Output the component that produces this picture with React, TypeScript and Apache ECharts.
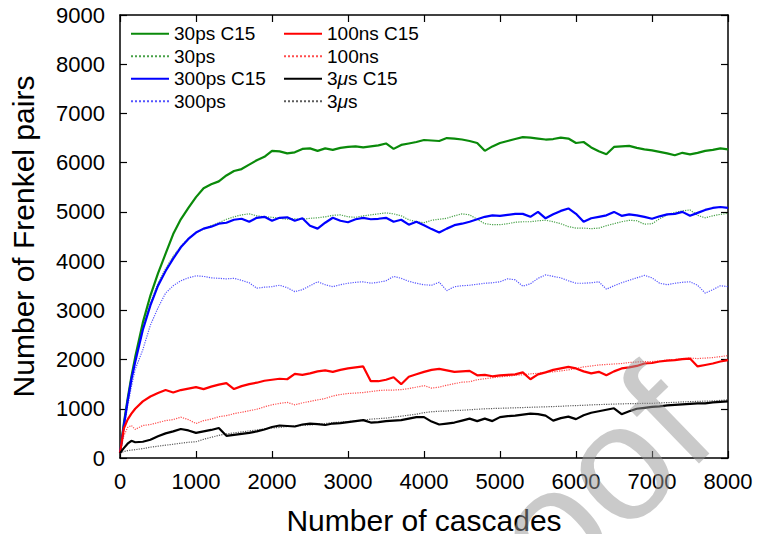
import React, { useEffect, useRef } from "react";
import * as echarts from "echarts";

// Number of cascades (shared x positions)
const CASCADES: number[] = [0, 50, 100, 150, 200, ...Array.from({ length: 78 }, (_, i) => 300 + i * 100)];

const ps30C15 = [100, 700, 1200, 1650, 2050,
  2750, 3300, 3750, 4150, 4550, 4850, 5080, 5300,
  5480, 5560, 5620, 5740, 5830, 5870, 5960, 6050, 6120, 6240,
  6230, 6190, 6210, 6280, 6290, 6240, 6290, 6260, 6300, 6320,
  6330, 6310, 6330, 6350, 6390, 6280, 6360, 6390, 6420, 6460,
  6450, 6440, 6500, 6490, 6470, 6440, 6400, 6240, 6330, 6400,
  6440, 6480, 6520, 6510, 6490, 6470, 6480, 6510, 6490, 6400,
  6420, 6310, 6230, 6170, 6320, 6330, 6340, 6300, 6270, 6250,
  6220, 6190, 6150, 6200, 6170, 6200, 6240, 6260, 6290, 6270];

const ps30 = [100, 680, 1180, 1620, 2000,
  2650, 3150, 3550, 3850, 4100, 4300, 4460, 4580,
  4650, 4720, 4780, 4850, 4900, 4940, 4960, 4920, 4900, 4890,
  4870, 4850, 4860, 4850, 4870, 4880, 4900, 4930, 4940, 4900,
  4890, 4920, 4940, 4960, 4980, 4960, 4920, 4840, 4800, 4780,
  4830, 4850, 4870, 4920, 4960, 4940, 4850, 4760, 4740, 4740,
  4760, 4790, 4800, 4800, 4820, 4830, 4800, 4760, 4700, 4670,
  4670, 4660, 4670, 4720, 4760, 4800, 4830, 4820, 4750, 4760,
  4860, 4940, 4990, 5020, 5040, 4930, 4880, 4920, 4950, 4970];

const ps300C15 = [100, 650, 1150, 1600, 1950,
  2600, 3100, 3500, 3800, 4050, 4280, 4450, 4580,
  4660, 4700, 4760, 4780, 4840, 4860, 4800, 4880, 4900, 4820,
  4880, 4890, 4820, 4870, 4720, 4660, 4780, 4880, 4820, 4790,
  4850, 4880, 4850, 4860, 4880, 4800, 4840, 4740, 4800, 4730,
  4650, 4580, 4660, 4730, 4760, 4800, 4850, 4900, 4930, 4920,
  4940, 4960, 4960, 4900, 5000, 4870, 4950, 5020, 5070, 4960,
  4800, 4870, 4900, 4930, 5000, 4920, 4950, 4930, 4900, 4860,
  4910, 4950, 4960, 5000, 4920, 4980, 5040, 5080, 5100, 5080];

const ps300 = [100, 600, 1050, 1450, 1800,
  2200, 2700, 3050, 3350, 3500, 3600, 3660, 3700,
  3690, 3660, 3650, 3640, 3650, 3610, 3560, 3450, 3470, 3480,
  3510, 3460, 3380, 3420, 3500, 3580, 3520, 3480, 3520, 3550,
  3570, 3580, 3550, 3570, 3600, 3690, 3650, 3590, 3550, 3520,
  3510, 3570, 3400, 3480, 3500, 3510, 3530, 3550, 3560, 3580,
  3640, 3620, 3490, 3540, 3650, 3720, 3690, 3660, 3600, 3550,
  3550, 3560, 3580, 3430, 3500, 3560, 3610, 3660, 3710, 3660,
  3550, 3520, 3550, 3570, 3580, 3510, 3350, 3420, 3500, 3480];

const ns100C15 = [100, 600, 780, 900, 1000,
  1150, 1250, 1320, 1380, 1330, 1380, 1410, 1440,
  1400, 1450, 1490, 1520, 1400, 1460, 1500, 1530, 1570, 1590,
  1610, 1600, 1710, 1690, 1720, 1760, 1780, 1750, 1790, 1820,
  1840, 1860, 1560, 1560, 1590, 1640, 1500, 1650, 1700, 1750,
  1790, 1810, 1780, 1750, 1760, 1770, 1680, 1690, 1660, 1680,
  1690, 1700, 1740, 1600, 1700, 1740, 1790, 1820, 1850, 1820,
  1760, 1720, 1750, 1680, 1760, 1820, 1840, 1870, 1920, 1930,
  1960, 1980, 1990, 2010, 2020, 1860, 1890, 1920, 1960, 1990];

const ns100 = [100, 450, 620, 660, 580,
  660, 680, 720, 760, 780, 830, 780, 700,
  760, 790, 840, 860, 900, 930, 960, 990, 1040, 1080,
  1110, 1130, 1080, 1120, 1150, 1180, 1210, 1260, 1290, 1310,
  1320, 1330, 1350, 1370, 1380, 1380, 1390, 1410, 1440, 1470,
  1420, 1440, 1480, 1510, 1540, 1550, 1590, 1610, 1630, 1650,
  1660, 1680, 1690, 1710, 1720, 1740, 1750, 1770, 1790, 1820,
  1850, 1870, 1890, 1900, 1910, 1920, 1940, 1950, 1960, 1960,
  1970, 1990, 2000, 2020, 2030, 2020, 2030, 2040, 2060, 2080];

const us3C15 = [100, 200, 290, 350, 320,
  330, 370, 440, 500, 540, 590, 560, 510,
  540, 570, 610, 450, 470, 490, 510, 540, 580, 630,
  660, 650, 640, 680, 700, 690, 670, 700, 710, 730,
  750, 770, 720, 730, 750, 760, 770, 800, 830, 830,
  740, 680, 700, 720, 760, 800, 750, 800, 750, 830,
  850, 860, 880, 900, 890, 860, 760, 810, 840, 790,
  870, 920, 950, 980, 1010, 890, 950, 1000, 1020, 1040,
  1050, 1070, 1080, 1090, 1100, 1110, 1110, 1130, 1140, 1150];

const us3 = [100, 130, 150, 160, 170,
  190, 220, 240, 260, 280, 300, 320, 330,
  380, 420, 460, 490, 510, 530, 550, 570, 590, 610,
  620, 640, 650, 660, 670, 690, 700, 720, 730, 740,
  750, 770, 790, 800, 810, 830, 850, 870, 890, 920,
  940, 950, 955, 965, 970, 980, 990, 1000, 1005, 1010,
  1015, 1020, 1025, 1030, 1035, 1040, 1045, 1050, 1060, 1065,
  1070, 1080, 1085, 1090, 1095, 1100, 1105, 1105, 1110, 1110,
  1120, 1125, 1130, 1140, 1145, 1150, 1155, 1160, 1170, 1180];

const X_TICKS = { min: 0, max: 8000, interval: 1000 };
const Y_TICKS = { min: 0, max: 9000, interval: 1000 };

const FONT = "'Liberation Sans', Arial, Helvetica, sans-serif";

const SERIES_DEFS = [
  { name: "30ps C15", values: ps30C15, color: "#0a8a0a", dotted: false },
  { name: "30ps", values: ps30, color: "#1a8a1a", dotted: true },
  { name: "300ps C15", values: ps300C15, color: "#0000ff", dotted: false },
  { name: "300ps", values: ps300, color: "#2a2aff", dotted: true },
  { name: "100ns C15", values: ns100C15, color: "#ff0000", dotted: false },
  { name: "100ns", values: ns100, color: "#ff2020", dotted: true },
  { name: "3μs C15", values: us3C15, color: "#000000", dotted: false },
  { name: "3μs", values: us3, color: "#333333", dotted: true },
];

const legendFormatter = (name: string) => name.replace("μ", "{i|μ}");

export default function App() {
  const ref = useRef<HTMLDivElement>(null);
  useEffect(() => {
    if (!ref.current) return;
    const chart = echarts.init(ref.current, undefined, { renderer: "svg" });
    const axisCommon = {
      type: "value" as const,
      splitLine: { show: false },
      axisLine: { show: true, onZero: false, lineStyle: { color: "#000", width: 1.5 } },
      axisTick: { show: true, inside: true, length: 7, lineStyle: { color: "#000", width: 1.2 } },
    };
    const legendCommon = {
      orient: "vertical" as const,
      top: 19,
      itemWidth: 38,
      itemHeight: 14,
      itemGap: 3,
      formatter: legendFormatter,
      itemStyle: { opacity: 0 },
      textStyle: {
        fontFamily: FONT,
        fontSize: 19,
        lineHeight: 19.5,
        color: "#000",
        rich: { i: { fontFamily: FONT, fontSize: 19, fontStyle: "italic", color: "#000" } },
      },
    };
    const plain = (v: number) => String(v);
    chart.setOption({
      animation: false,
      backgroundColor: "#fff",
      grid: { left: 120, right: 29, top: 15, bottom: 76, containLabel: false, outerBoundsMode: "none" },
      xAxis: [
        {
          ...axisCommon,
          ...X_TICKS,
          position: "bottom",
          name: "Number of cascades",
          nameLocation: "middle",
          nameGap: 47,
          nameTextStyle: { fontFamily: FONT, fontSize: 30, color: "#000" },
          axisLabel: { color: "#000", fontFamily: FONT, fontSize: 22, margin: 12, formatter: plain },
        },
        {
          ...axisCommon,
          ...X_TICKS,
          position: "top",
          axisLabel: { show: false },
        },
      ],
      yAxis: [
        {
          ...axisCommon,
          ...Y_TICKS,
          position: "left",
          name: "Number of Frenkel pairs",
          nameLocation: "middle",
          nameGap: 82,
          nameTextStyle: { fontFamily: FONT, fontSize: 30, color: "#000" },
          axisLabel: { color: "#000", fontFamily: FONT, fontSize: 22, margin: 15, formatter: plain },
        },
        {
          ...axisCommon,
          ...Y_TICKS,
          position: "right",
          axisLabel: { show: false },
        },
      ],
      legend: [
        { ...legendCommon, left: 125, data: SERIES_DEFS.slice(0, 4).map((s) => s.name) },
        { ...legendCommon, left: 278, data: SERIES_DEFS.slice(4).map((s) => s.name) },
      ],
      series: SERIES_DEFS.map((s) => ({
        name: s.name,
        type: "line",
        xAxisIndex: 0,
        yAxisIndex: 0,
        symbol: "none",
        showSymbol: false,
        data: CASCADES.map((x, i) => [x, s.values[i]]),
        lineStyle: {
          color: s.color,
          width: s.dotted ? 1.2 : 2.2,
          type: s.dotted ? "dotted" : "solid",
          opacity: s.dotted ? 0.8 : 1,
        },
        itemStyle: { color: s.color },
        z: s.dotted ? 2 : 3,
      })),
      graphic: [
        {
          type: "text",
          x: 540,
          y: 538,
          rotation: (44 * Math.PI) / 180,
          z: 100,
          silent: true,
          style: {
            text: "Proof",
            fontFamily: FONT,
            fontSize: 165,
            fill: "rgba(150,150,150,0.5)",
            align: "center",
            verticalAlign: "middle",
          },
        },
      ],
    });
    return () => chart.dispose();
  }, []);
  return (
    <div
      ref={ref}
      style={{ position: "absolute", left: 0, top: 0, width: 757, height: 534 }}
    />
  );
}
